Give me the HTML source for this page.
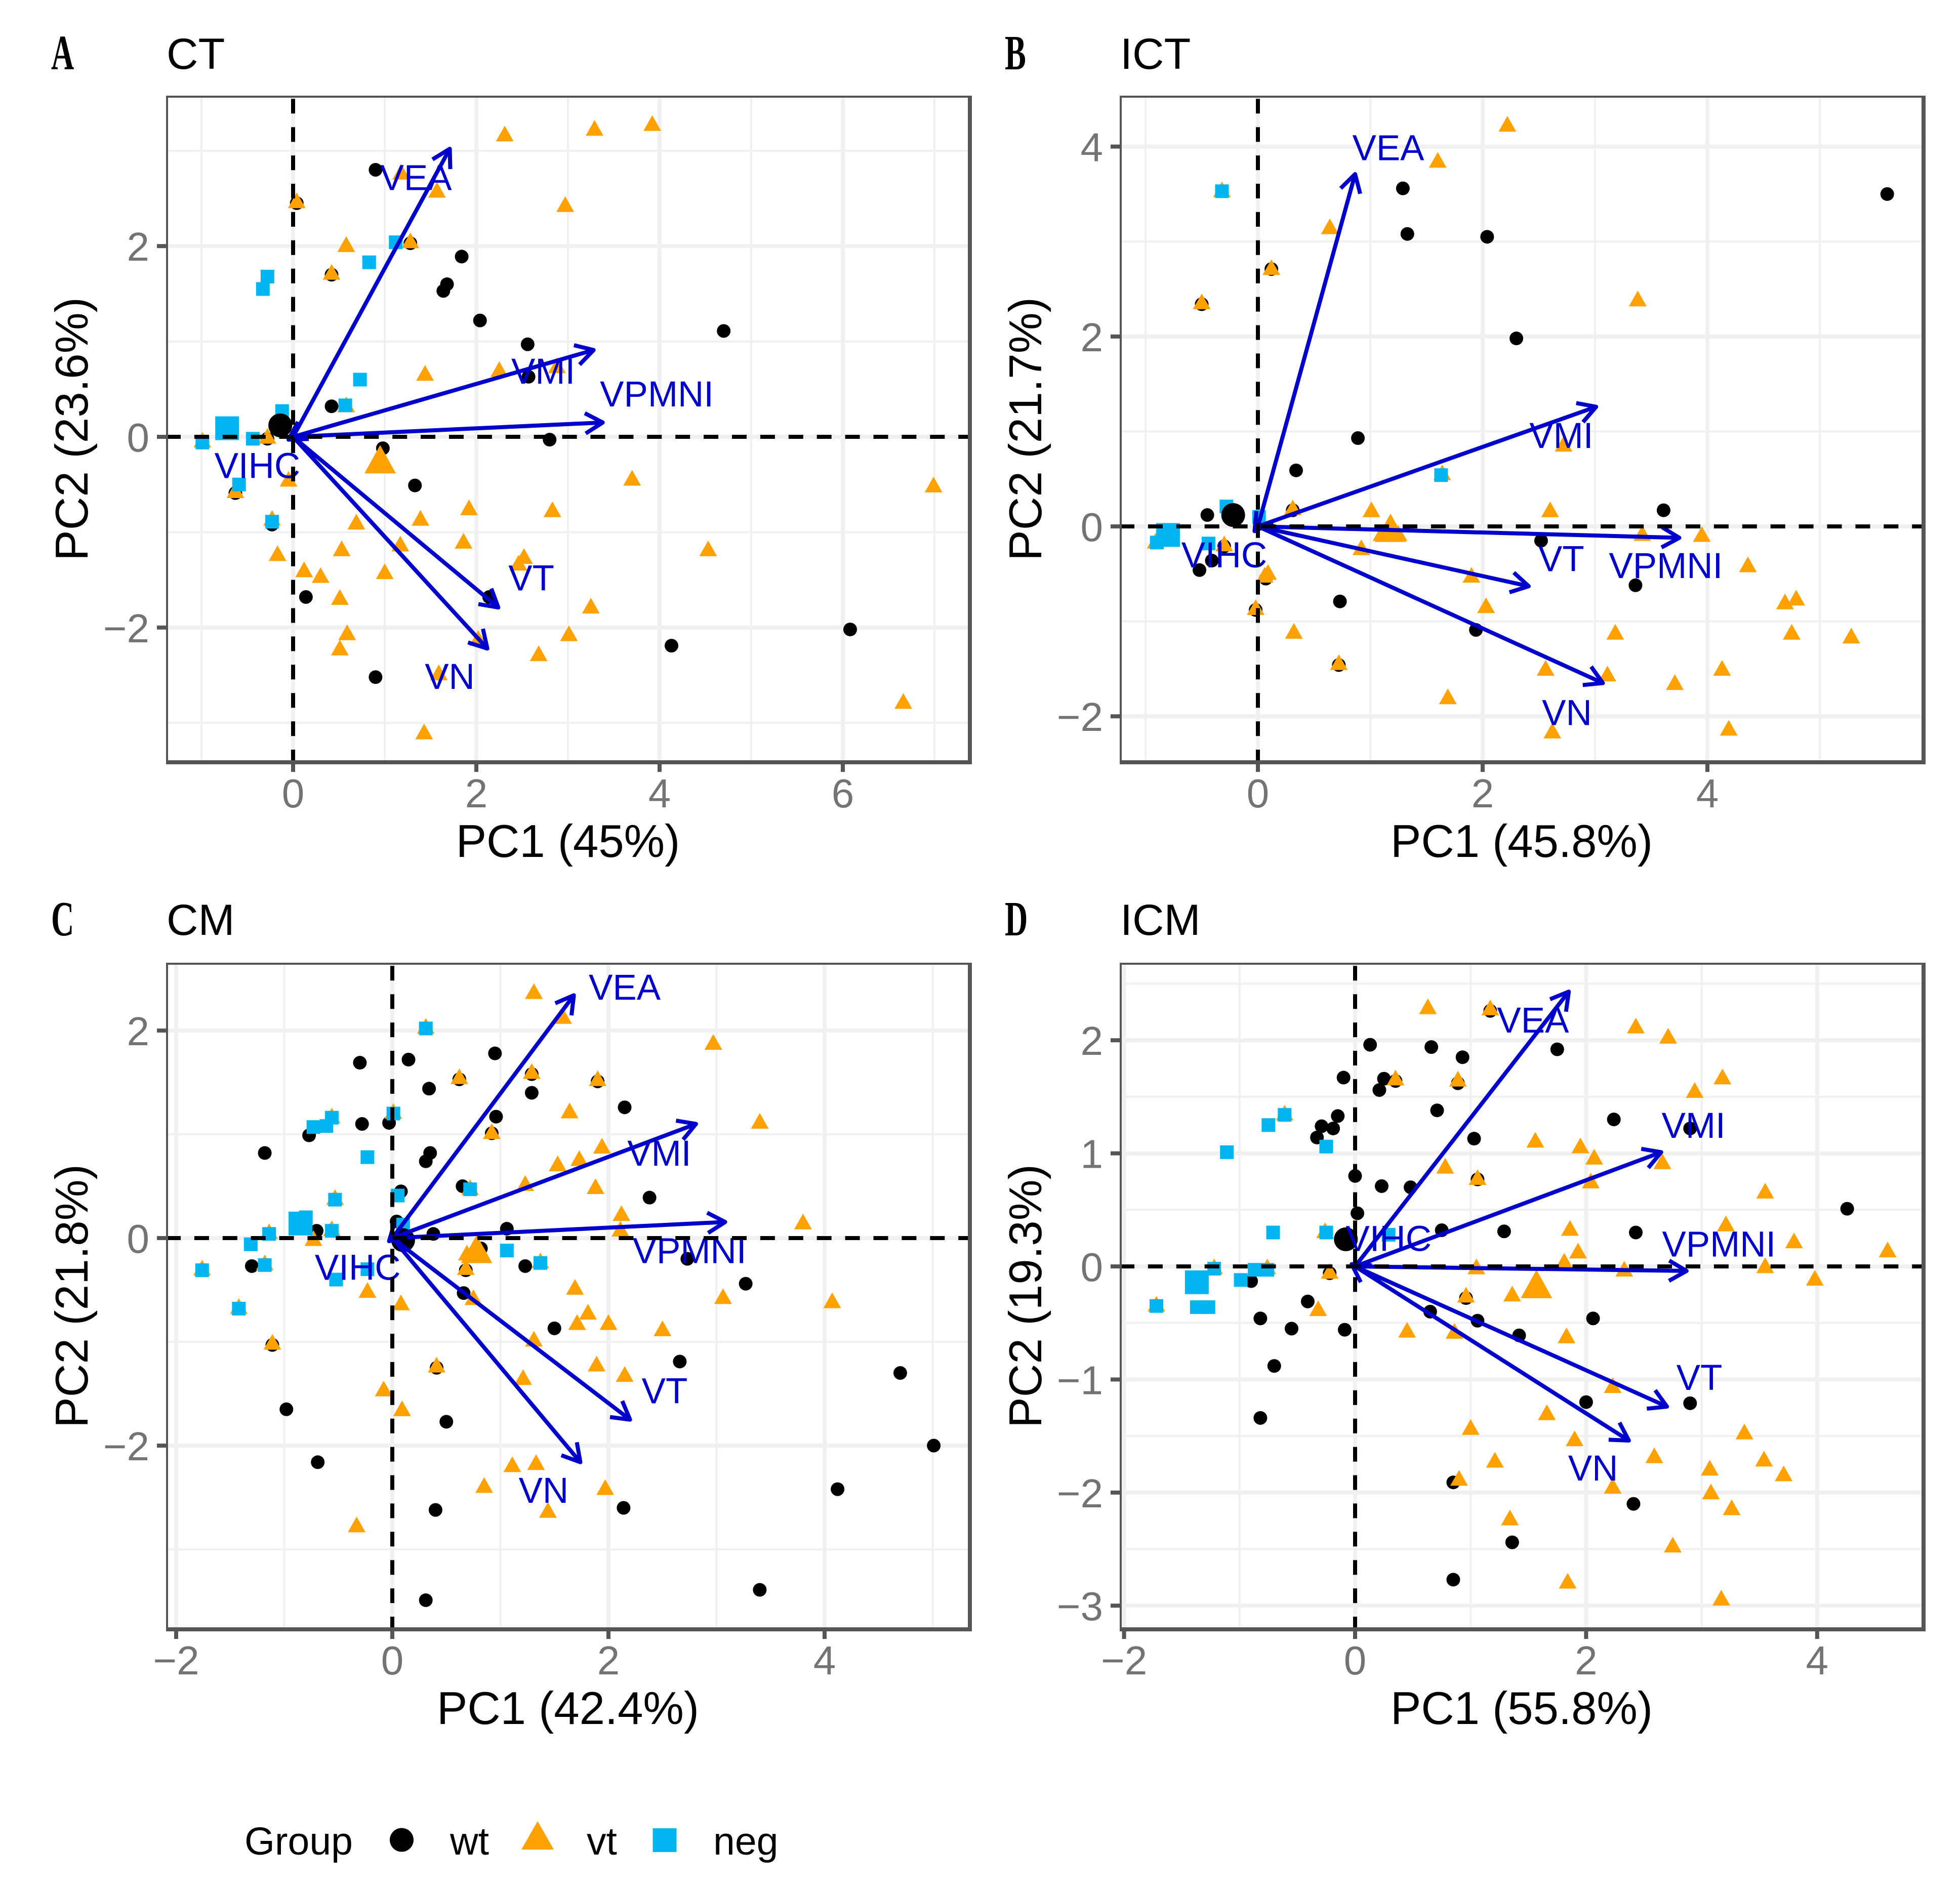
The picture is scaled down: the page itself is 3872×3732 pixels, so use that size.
<!DOCTYPE html>
<html lang="en">
<head>
<meta charset="utf-8">
<title>PCA biplots of thalamic nuclei</title>
<style>
html,body{margin:0;padding:0;background:#fff;}
svg{display:block;}
text{font-family:"Liberation Sans",sans-serif;}
</style>
</head>
<body>
<svg id="figure" xmlns="http://www.w3.org/2000/svg" width="3872" height="3732" viewBox="0 0 3872 3732"></svg>
<script>
/* ---------- Panel A: CT ---------- */
const ctXTicks = [0, 2, 4, 6];
const ctYTicks = [-2, 0, 2];
const ctWt = [[.90,2.80],[1.28,2.03],[.42,1.70],[1.84,1.89],[1.68,1.60],[1.64,1.53],[2.04,1.22],[2.56,.97],[4.70,1.11],[2.57,.63],[.42,.32],[.04,2.45],[.98,-.12],[2.80,-.03],[1.33,-.51],[-.63,-.59],[-.28,-.02],[-.23,-.92],[.14,-1.68],[2.14,-1.68],[.90,-2.52],[4.13,-2.19],[6.08,-2.02]];
const ctVt = [[2.31,3.18],[3.29,3.24],[3.92,3.29],[2.97,2.44],[1.57,2.59],[1.18,2.78],[.04,2.48],[.58,2.02],[1.28,2.06],[.42,1.73],[2.25,.71],[2.88,.75],[1.44,.67],[.58,.34],[-.28,.01],[-.99,-.03],[-.05,-.44],[-.63,-.56],[3.70,-.43],[6.99,-.50],[1.92,-.74],[2.83,-.76],[1.39,-.85],[.69,-.89],[-.23,-.85],[1.86,-1.09],[1.17,-1.12],[.53,-1.17],[4.53,-1.17],[2.52,-1.25],[2.46,-1.32],[-.17,-1.22],[.12,-1.39],[.30,-1.45],[1.00,-1.41],[.51,-1.68],[3.25,-1.77],[3.01,-2.06],[.59,-2.05],[.51,-2.21],[2.68,-2.27],[2.02,-2.11],[1.59,-2.47],[1.43,-3.09],[6.66,-2.77]];
const ctNeg = [[1.12,2.04],[.83,1.83],[-.28,1.68],[-.33,1.55],[.73,.60],[.57,.33],[-.12,.27],[-.44,-.02],[-.99,-.06],[-.59,-.50],[-.23,-.89]];
const ctCentroids = {wt:[-.14,.12], vt:[.95,-.24], neg:[-.72,.09]};
const ctArrows = {VEA:[1.71,3.02], VMI:[3.28,.91], VPMNI:[3.38,.15], VT:[2.24,-1.79], VN:[2.12,-2.22], VIHC:[-.05,-.03]};
const ctLabels = {VEA:[1.34,2.71], VMI:[2.73,.68], VPMNI:[3.97,.44], VT:[2.60,-1.49], VN:[1.71,-2.52], VIHC:[-.39,-.31]};

/* ---------- Panel B: ICT ---------- */
const ictXTicks = [0, 2, 4];
const ictYTicks = [-2, 0, 2, 4];
const ictWt = [[5.60,3.50],[1.29,3.56],[1.33,3.08],[2.04,3.05],[2.30,1.98],[.12,2.71],[-.50,2.34],[.89,.93],[.34,.59],[.31,.17],[3.61,.17],[-.45,.12],[2.52,-.15],[-.30,-.21],[-.41,-.36],[-.52,-.46],[.07,-.55],[3.36,-.62],[.73,-.79],[-.02,-.88],[1.94,-1.09],[.72,-1.46]];
const ictVt = [[2.22,4.24],[1.60,3.86],[.64,3.16],[.12,2.73],[3.38,2.40],[-.50,2.37],[-.32,3.55],[2.72,.87],[1.64,.57],[.31,.20],[1.01,.18],[2.60,.18],[1.18,.05],[1.10,-.07],[1.25,-.07],[3.42,-.07],[3.95,-.08],[.92,-.22],[-.30,-.18],[-.91,-.15],[1.90,-.51],[4.36,-.40],[.09,-.48],[.06,-.51],[4.69,-.79],[4.79,-.75],[-.02,-.85],[2.03,-.83],[4.75,-1.11],[5.28,-1.15],[.32,-1.10],[3.18,-1.11],[.72,-1.43],[2.56,-1.49],[4.13,-1.49],[3.11,-1.55],[3.71,-1.64],[1.69,-1.79],[2.62,-2.15],[4.19,-2.12]];
const ictNeg = [[-.32,3.53],[1.63,.54],[-.28,.21],[.01,.10],[-.44,-.18],[-.90,-.17]];
const ictCentroids = {wt:[-.22,.12], vt:[1.18,-.02], neg:[-.80,-.09]};
const ictArrows = {VEA:[.865,3.71], VMI:[3.01,1.26], VPMNI:[3.75,-.12], VT:[2.41,-.63], VN:[3.07,-1.65], VIHC:[-.03,-.05]};
const ictLabels = {VEA:[1.16,3.98], VMI:[2.70,.95], VPMNI:[3.63,-.42], VT:[2.70,-.35], VN:[2.75,-1.97], VIHC:[-.30,-.31]};

/* ---------- Panel C: CM ---------- */
const cmXTicks = [-2, 0, 2, 4];
const cmYTicks = [-2, 0, 2];
const cmWt = [[-.30,1.69],[.15,1.72],[.95,1.78],[.34,1.44],[1.29,1.40],[1.29,1.58],[.62,1.53],[1.90,1.51],[2.15,1.26],[.96,1.17],[-.28,1.10],[-.03,1.11],[-.77,.99],[.92,1.01],[-1.18,.82],[.35,.82],[.31,.74],[.65,.50],[.08,.45],[2.38,.39],[.04,.16],[-.70,.07],[1.06,.09],[.38,.04],[2.73,-.20],[-1.30,-.27],[1.23,-.27],[.82,-.10],[.68,-.31],[3.27,-.44],[.66,-.53],[1.50,-.87],[-1.11,-1.03],[.41,-1.25],[2.66,-1.19],[4.70,-1.30],[-.98,-1.65],[.50,-1.77],[5.01,-2.00],[-.69,-2.16],[4.12,-2.42],[.40,-2.62],[2.14,-2.60],[3.40,-3.39],[.31,-3.49]];
const cmVt = [[1.31,2.38],[1.58,2.14],[.31,2.045],[2.97,1.89],[.62,1.56],[1.29,1.61],[1.90,1.54],[.01,1.225],[1.64,1.23],[3.40,1.13],[.92,1.03],[-.56,1.18],[1.94,.89],[1.53,.72],[1.73,.77],[1.23,.53],[1.88,.50],[.72,.49],[-.53,.395],[2.12,.24],[3.80,.16],[2.11,.09],[-.56,.095],[-1.14,.065],[-.73,0],[.69,-.14],[1.37,-.215],[-1.18,-.235],[-1.76,-.285],[.68,-.28],[1.69,-.47],[-.23,-.50],[.75,-.57],[3.06,-.56],[4.07,-.60],[.08,-.62],[-1.42,-.655],[1.81,-.71],[1.71,-.81],[2.00,-.81],[2.50,-.87],[1.31,-.97],[-1.11,-1.00],[.41,-1.22],[1.89,-1.21],[2.15,-1.31],[1.21,-1.34],[-.08,-1.45],[.09,-1.64],[1.11,-2.18],[1.33,-2.16],[.85,-2.38],[1.97,-2.40],[1.44,-2.62],[-.33,-2.76]];
const cmNeg = [[.31,2.02],[.01,1.20],[-.56,1.16],[-.61,1.08],[-.73,1.07],[-.23,.78],[.72,.47],[.05,.41],[-.53,.37],[.10,.13],[-.56,.07],[-1.14,.04],[-1.31,-.06],[1.06,-.12],[-.23,-.30],[1.37,-.24],[-1.18,-.26],[-.52,-.40],[-1.76,-.31],[-1.42,-.68],[-.80,.20]];
const cmCentroids = {wt:[.10,-.02], vt:[.78,-.11], neg:[-.85,.14]};
const cmArrows = {VEA:[1.68,2.34], VMI:[2.81,1.10], VPMNI:[3.08,.155], VT:[2.20,-1.75], VN:[1.74,-2.16], VIHC:[-.03,-.03]};
const cmLabels = {VEA:[2.15,2.41], VMI:[2.47,.81], VPMNI:[2.75,-.13], VT:[2.52,-1.48], VN:[1.40,-2.44], VIHC:[-.32,-.29]};

/* ---------- Panel D: ICM ---------- */
const icmXTicks = [-2, 0, 2, 4];
const icmYTicks = [-3, -2, -1, 0, 1, 2];
const icmWt = [[.13,1.96],[.66,1.94],[.93,1.85],[1.75,1.92],[1.17,2.26],[-.10,1.67],[.25,1.66],[.35,1.64],[.21,1.56],[.89,1.62],[.71,1.38],[-.15,1.33],[-.29,1.24],[-.19,1.22],[-.33,1.14],[2.24,1.30],[2.90,1.22],[1.03,1.13],[0,.80],[.23,.71],[.48,.70],[1.06,.77],[.02,.47],[4.26,.51],[.75,.32],[1.29,.31],[2.43,.30],[-.22,-.06],[-.90,-.13],[.96,-.28],[-.41,-.31],[-.82,-.46],[.65,-.40],[-.55,-.55],[-.09,-.56],[1.06,-.48],[2.06,-.46],[1.42,-.61],[-.70,-.88],[2.00,-1.20],[2.90,-1.21],[-.82,-1.34],[.85,-1.91],[2.41,-2.10],[1.36,-2.44],[.85,-2.77]];
const icmVt = [[.63,2.30],[1.17,2.29],[2.43,2.13],[2.71,2.04],[3.18,1.68],[.35,1.67],[.89,1.66],[2.94,1.56],[-.61,1.36],[1.56,1.12],[1.95,1.07],[2.07,.97],[2.66,.93],[.78,.89],[1.06,.79],[2.04,.76],[3.55,.67],[3.21,.38],[1.86,.34],[-.26,.32],[3.80,.23],[1.93,.14],[4.61,.15],[1.81,.05],[-1.22,0],[-.76,0],[1.05,0],[2.33,-.02],[3.55,.01],[-.22,-.04],[3.98,-.10],[.96,-.25],[1.36,-.24],[-1.72,-.33],[-.32,-.37],[.45,-.56],[.86,-.57],[1.83,-.61],[2.23,-1.05],[1.66,-1.29],[1.00,-1.42],[1.90,-1.52],[3.37,-1.46],[2.59,-1.67],[1.21,-1.71],[3.54,-1.70],[3.07,-1.78],[3.71,-1.83],[.90,-1.87],[3.08,-1.99],[2.23,-1.94],[3.26,-2.13],[1.34,-2.22],[2.75,-2.46],[1.84,-2.78],[3.17,-2.93]];
const icmNeg = [[-.61,1.34],[-.75,1.25],[-1.11,1.01],[-.25,1.06],[-.71,.30],[-.25,.30],[.29,.28],[-1.22,-.02],[-.87,-.03],[-.76,-.03],[-.99,-.12],[-1.37,-.36],[-1.27,-.36],[-1.72,-.35]];
const icmCentroids = {wt:[-.08,.24], vt:[1.57,-.16], neg:[-1.37,-.14]};
const icmArrows = {VEA:[1.85,2.43], VMI:[2.65,1.01], VPMNI:[2.87,-.04], VT:[2.70,-1.24], VN:[2.37,-1.54], VIHC:[-.03,.02]};
const icmLabels = {VEA:[1.54,2.17], VMI:[2.93,1.24], VPMNI:[3.15,.19], VT:[2.98,-.99], VN:[2.06,-1.79], VIHC:[.29,.24]};

/* ---------- Layout and styling ---------- */
const NS = 'http://www.w3.org/2000/svg';
const svg = document.getElementById('figure');
const ORANGE = '#ffa100', BLUE = '#00b5f0', NAVY = '#0000cc', BORDER = '#555555', GRID = '#f0f0f0', TICKTEXT = '#737373';

const panels = [
  {key:'ct', letter:'A', title:'CT', xTitle:'PC1 (45%)', yTitle:'PC2 (23.6%)',
   left:328, right:1920, top:189, bottom:1510, x0:579, ux:181, y0:863, uy:188.4,
   xTicks:ctXTicks, yTicks:ctYTicks, wt:ctWt, vt:ctVt, neg:ctNeg, centroids:ctCentroids, arrows:ctArrows, labels:ctLabels},
  {key:'ict', letter:'B', title:'ICT', xTitle:'PC1 (45.8%)', yTitle:'PC2 (21.7%)',
   left:2212, right:3804, top:189, bottom:1510, x0:2485, ux:222, y0:1040, uy:187.6,
   xTicks:ictXTicks, yTicks:ictYTicks, wt:ictWt, vt:ictVt, neg:ictNeg, centroids:ictCentroids, arrows:ictArrows, labels:ictLabels},
  {key:'cm', letter:'C', title:'CM', xTitle:'PC1 (42.4%)', yTitle:'PC2 (21.8%)',
   left:328, right:1920, top:1902, bottom:3223, x0:775, ux:213.5, y0:2446, uy:205,
   xTicks:cmXTicks, yTicks:cmYTicks, wt:cmWt, vt:cmVt, neg:cmNeg, centroids:cmCentroids, arrows:cmArrows, labels:cmLabels},
  {key:'icm', letter:'D', title:'ICM', xTitle:'PC1 (55.8%)', yTitle:'PC2 (19.3%)',
   left:2212, right:3804, top:1902, bottom:3223, x0:2677, ux:228.2, y0:2502, uy:223.4,
   xTicks:icmXTicks, yTicks:icmYTicks, wt:icmWt, vt:icmVt, neg:icmNeg, centroids:icmCentroids, arrows:icmArrows, labels:icmLabels}
];

function mk(parent, tag, attrs) {
  const el = document.createElementNS(NS, tag);
  for (const k in attrs) el.setAttribute(k, attrs[k]);
  parent.appendChild(el);
  return el;
}
function fmt(v) { return v < 0 ? '\u2212' + Math.abs(v) : String(v); }
function minors(ticks, lo, hi) {
  const step = ticks[1] - ticks[0];
  const out = [];
  for (let i = -1; i < ticks.length; i++) {
    const m = ticks[0] + (i + 0.5) * step;
    if (m > lo && m < hi) out.push(m);
  }
  return out;
}
function triPoints(cx, cy, w, up, down) {
  return (cx - w / 2) + ',' + (cy + down) + ' ' + (cx + w / 2) + ',' + (cy + down) + ' ' + cx + ',' + (cy - up);
}

function drawCircle(g, cx, cy, d, name) {
  const el = mk(g, 'circle', {cx: cx, cy: cy, r: d / 2, fill: '#000'});
  
  
}
function drawTriangle(g, cx, cy, w, up, down, name) {
  const el = mk(g, 'polygon', {points: triPoints(cx, cy, w, up, down), fill: ORANGE});
  
  
}
function drawSquare(g, cx, cy, s, name) {
  const el = mk(g, 'rect', {x: cx - s / 2, y: cy - s / 2, width: s, height: s, fill: BLUE});
  
  
}

function drawPanel(p) {
  const sx = d => p.x0 + p.ux * d;
  const sy = d => p.y0 - p.uy * d;
  const xLo = (p.left - p.x0) / p.ux, xHi = (p.right - p.x0) / p.ux;
  const yLo = (p.y0 - p.bottom) / p.uy, yHi = (p.y0 - p.top) / p.uy;

  const g = mk(svg, 'g', {});
  
  

  /* panel letter and title */
  const letterX = p.left === 328 ? 101 : 1985;
  const baseY = p.top === 189 ? 137 : 1848;
  const letter = mk(g, 'text', {transform: 'translate(' + letterX + ',' + baseY + ') scale(0.64,1)', 'font-size': 98, 'font-weight': 'bold', style: 'font-family:"Liberation Serif",serif'});
  letter.textContent = p.letter;
  
  

  const title = mk(g, 'text', {x: p.left + 1, y: baseY - 1, 'font-size': 86.5, fill: '#000'});
  title.textContent = p.title;
  
  

  /* grid */
  const grid = mk(g, 'g', {});
  
  
  minors(p.xTicks, xLo, xHi).forEach(v => mk(grid, 'line', {x1: sx(v), x2: sx(v), y1: p.top, y2: p.bottom, stroke: GRID, 'stroke-width': 4}));
  minors(p.yTicks, yLo, yHi).forEach(v => mk(grid, 'line', {x1: p.left, x2: p.right, y1: sy(v), y2: sy(v), stroke: GRID, 'stroke-width': 4}));
  p.xTicks.forEach(v => mk(grid, 'line', {x1: sx(v), x2: sx(v), y1: p.top, y2: p.bottom, stroke: GRID, 'stroke-width': 8}));
  p.yTicks.forEach(v => mk(grid, 'line', {x1: p.left, x2: p.right, y1: sy(v), y2: sy(v), stroke: GRID, 'stroke-width': 8}));

  /* points */
  const pts = mk(g, 'g', {});
  
  
  p.wt.forEach(d => drawCircle(pts, sx(d[0]), sy(d[1]), 27, 'point-wt'));
  p.vt.forEach(d => drawTriangle(pts, sx(d[0]), sy(d[1]), 35, 15.5, 15.5, 'point-vt'));
  p.neg.forEach(d => drawSquare(pts, sx(d[0]), sy(d[1]), 27, 'point-neg'));
  drawCircle(pts, sx(p.centroids.wt[0]), sy(p.centroids.wt[1]), 47, 'centroid-wt');
  drawTriangle(pts, sx(p.centroids.vt[0]), sy(p.centroids.vt[1]), 62, 29, 27, 'centroid-vt');
  drawSquare(pts, sx(p.centroids.neg[0]), sy(p.centroids.neg[1]), 47, 'centroid-neg');

  /* loading arrows */
  const arrows = mk(g, 'g', {});
  
  
  Object.keys(p.arrows).forEach(name => {
    const a = p.arrows[name];
    const tx = sx(a[0]), ty = sy(a[1]);
    const ox = sx(0), oy = sy(0);
    const ang = Math.atan2(ty - oy, tx - ox);
    const hl = 40, ha = Math.PI / 6;
    const shaft = mk(arrows, 'line', {x1: ox, y1: oy, x2: tx, y2: ty, stroke: NAVY, 'stroke-width': 8});
    
    
    const head = mk(arrows, 'polyline', {
      points: (tx - hl * Math.cos(ang - ha)) + ',' + (ty - hl * Math.sin(ang - ha)) + ' ' + tx + ',' + ty + ' ' + (tx - hl * Math.cos(ang + ha)) + ',' + (ty - hl * Math.sin(ang + ha)),
      fill: 'none', stroke: NAVY, 'stroke-width': 8, 'stroke-linejoin': 'round'
    });
    
    
  });

  /* loading labels */
  Object.keys(p.labels).forEach(name => {
    const l = p.labels[name];
    const t = mk(g, 'text', {x: sx(l[0]), y: sy(l[1]) + 23, 'font-size': 71, 'text-anchor': 'middle', fill: NAVY});
    t.textContent = name;
    
    
  });

  /* zero reference lines, drawn above the marks */
  const h = mk(g, 'line', {x1: p.left, x2: p.right, y1: sy(0), y2: sy(0), stroke: '#000', 'stroke-width': 8, 'stroke-dasharray': '29 26.9'});
  
  
  const v = mk(g, 'line', {x1: sx(0), x2: sx(0), y1: p.bottom, y2: p.top, stroke: '#000', 'stroke-width': 8, 'stroke-dasharray': '29 26.9'});
  
  

  /* panel border: left/top 4px, right/bottom 8px */
  const border = mk(g, 'g', {fill: BORDER});
  
  
  mk(border, 'rect', {x: p.left, y: p.top, width: 4, height: p.bottom - p.top});
  mk(border, 'rect', {x: p.left, y: p.top, width: p.right - p.left, height: 4});
  mk(border, 'rect', {x: p.right - 8, y: p.top, width: 8, height: p.bottom - p.top});
  mk(border, 'rect', {x: p.left, y: p.bottom - 8, width: p.right - p.left, height: 8});

  /* x axis */
  const xa = mk(g, 'g', {});
  
  
  p.xTicks.forEach(val => {
    mk(xa, 'rect', {x: sx(val) - 4, y: p.bottom, width: 8, height: 15, fill: BORDER});
    const t = mk(xa, 'text', {x: sx(val), y: p.bottom + 85, 'font-size': 80, 'text-anchor': 'middle', fill: TICKTEXT});
    t.textContent = fmt(val);
    
    
  });
  const xt = mk(xa, 'text', {x: (p.left + p.right) / 2 - 2, y: p.bottom + 183, 'font-size': 90.5, 'text-anchor': 'middle', fill: '#000'});
  xt.textContent = p.xTitle;
  
  

  /* y axis */
  const ya = mk(g, 'g', {});
  
  
  p.yTicks.forEach(val => {
    mk(ya, 'rect', {x: p.left - 18, y: sy(val) - 4, width: 18, height: 8, fill: BORDER});
    const t = mk(ya, 'text', {x: p.left - 33, y: sy(val) + 29, 'font-size': 80, 'text-anchor': 'end', fill: TICKTEXT});
    t.textContent = fmt(val);
    
    
  });
  const yx = p.left - 155, ymid = (p.top + p.bottom) / 2 - 2;
  const yt = mk(ya, 'text', {transform: 'translate(' + yx + ',' + ymid + ') rotate(-90)', 'font-size': 91, 'text-anchor': 'middle', fill: '#000'});
  yt.textContent = p.yTitle;
  
  
}

panels.forEach(drawPanel);

/* ---------- Legend ---------- */
const legend = mk(svg, 'g', {});


const legendTitle = mk(legend, 'text', {x: 483, y: 3664, 'font-size': 77, fill: '#000'});
legendTitle.textContent = 'Group';


drawCircle(legend, 793.5, 3635, 47, 'legend-key-wt');
drawTriangle(legend, 1062, 3626, 64, 28, 28, 'legend-key-vt');
drawSquare(legend, 1313, 3635.5, 47, 'legend-key-neg');
const legendWt = mk(legend, 'text', {x: 889, y: 3664, 'font-size': 77, fill: '#000'});
legendWt.textContent = 'wt';


const legendVt = mk(legend, 'text', {x: 1159, y: 3664, 'font-size': 77, fill: '#000'});
legendVt.textContent = 'vt';


const legendNeg = mk(legend, 'text', {x: 1409, y: 3664, 'font-size': 77, fill: '#000'});
legendNeg.textContent = 'neg';


</script>
</body>
</html>
